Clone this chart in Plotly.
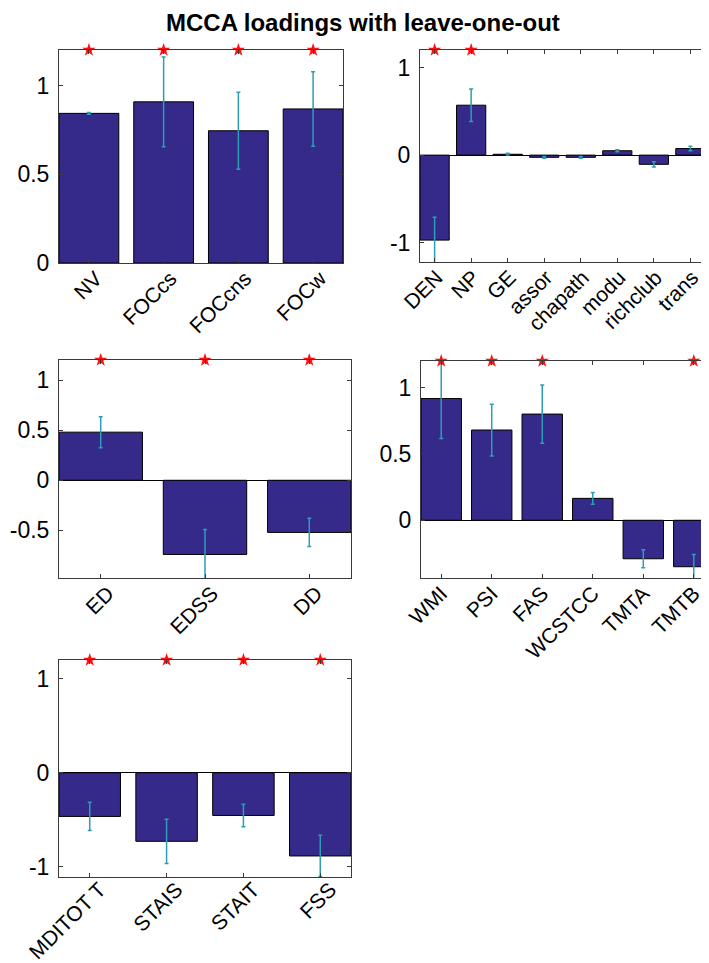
import plotly.graph_objects as go

W, H = 709, 963

# ---- data ----
p1_labels = ["NV", "FOCcs", "FOCcns", "FOCw"]
p1_values = [0.843, 0.908, 0.745, 0.868]
p1_errors = [0.005, 0.253, 0.217, 0.21]
p1_sig = [1, 1, 1, 1]

p2_labels = ["DEN", "NP", "GE", "assor", "chapath", "modu", "richclub", "trans"]
p2_values = [-0.97, 0.57, 0.01, -0.025, -0.025, 0.05, -0.105, 0.075]
p2_errors = [0.26, 0.185, 0.01, 0.01, 0.01, 0.012, 0.03, 0.025]
p2_sig = [1, 1, 0, 0, 0, 0, 0, 0]

p3_labels = ["ED", "EDSS", "DD"]
p3_values = [0.48, -0.74, -0.52]
p3_errors = [0.155, 0.25, 0.14]
p3_sig = [1, 1, 1]

p4_labels = ["WMI", "PSI", "FAS", "WCSTCC", "TMTA", "TMTB"]
p4_values = [0.917, 0.68, 0.80, 0.165, -0.29, -0.35]
p4_errors = [0.30, 0.195, 0.22, 0.045, 0.068, 0.093]
p4_sig = [1, 1, 1, 0, 0, 1]

p5_labels = ["MDITOT T", "STAIS", "STAIT", "FSS"]
p5_values = [-0.465, -0.73, -0.455, -0.886]
p5_errors = [0.15, 0.235, 0.12, 0.22]
p5_sig = [1, 1, 1, 1]

star_level = 1.2

p1_yticks = [0, 0.5, 1]
p1_yticktext = ["0", "0.5", "1"]
p2_yticks = [-1, 0, 1]
p2_yticktext = ["-1", "0", "1"]
p3_yticks = [-0.5, 0, 0.5, 1]
p3_yticktext = ["-0.5", "0", "0.5", "1"]
p4_yticks = [0, 0.5, 1]
p4_yticktext = ["0", "0.5", "1"]
p5_yticks = [-1, 0, 1]
p5_yticktext = ["-1", "0", "1"]

title = "MCCA loadings with leave-one-out"

# ---- layout (pixel boxes: x0, x1, y0(top), y1(bottom)) ----
panels = [
    dict(labels=p1_labels, values=p1_values, errors=p1_errors, sig=p1_sig,
         yr=[0, 1.2], yt=p1_yticks, ytt=p1_yticktext, box=(51, 335, 42, 255),
         shift=7, standoff=-6),
    dict(labels=p2_labels, values=p2_values, errors=p2_errors, sig=p2_sig,
         yr=[-1.22, 1.2], yt=p2_yticks, ytt=p2_yticktext, box=(412, 697, 42, 254),
         shift=2, standoff=-6),
    dict(labels=p3_labels, values=p3_values, errors=p3_errors, sig=p3_sig,
         yr=[-0.975, 1.2], yt=p3_yticks, ytt=p3_yticktext, box=(51, 343, 352, 570),
         shift=7, standoff=-6),
    dict(labels=p4_labels, values=p4_values, errors=p4_errors, sig=p4_sig,
         yr=[-0.435, 1.2], yt=p4_yticks, ytt=p4_yticktext, box=(413, 706, 353, 570),
         shift=0, standoff=-6),
    dict(labels=p5_labels, values=p5_values, errors=p5_errors, sig=p5_sig,
         yr=[-1.11, 1.2], yt=p5_yticks, ytt=p5_yticktext, box=(51, 343, 652, 869),
         shift=10, standoff=-9),
]

BAR = "#35298A"
ERR = "#2E9DB6"
LINE = "#3a3a3a"
FONT = "Liberation Sans, Arial, sans-serif"
YTICKSIZE = 23
XTICKSIZE = 21

fig = go.Figure()
layout = dict(
    width=W, height=H,
    margin=dict(l=0, r=0, t=0, b=0),
    paper_bgcolor="white", plot_bgcolor="white",
    showlegend=False,
    font=dict(family=FONT, color="black", size=YTICKSIZE),
)

for i, p in enumerate(panels, start=1):
    xa = "x" if i == 1 else f"x{i}"
    ya = "y" if i == 1 else f"y{i}"
    fig.add_trace(go.Bar(
        x=p["labels"], y=p["values"], width=0.8,
        marker=dict(color=BAR, line=dict(color="black", width=1)),
        error_y=dict(type="data", array=p["errors"], symmetric=True,
                     color=ERR, thickness=1.5, width=2),
        xaxis=xa, yaxis=ya, hoverinfo="skip",
    ))
    sx = [lab for lab, s in zip(p["labels"], p["sig"]) if s]
    fig.add_trace(go.Scatter(
        x=sx, y=[star_level] * len(sx), mode="markers",
        marker=dict(symbol="star", size=10, color="#FF1010",
                    line=dict(width=0)),
        cliponaxis=False, xaxis=xa, yaxis=ya, hoverinfo="skip",
    ))
    x0, x1, y0, y1 = p["box"]
    n = len(p["labels"])
    axis_common = dict(showline=True, linecolor=LINE, linewidth=1,
                       mirror="ticks", ticks="inside", ticklen=4,
                       tickcolor=LINE, showgrid=False, automargin=False)
    layout["xaxis" if i == 1 else f"xaxis{i}"] = dict(
        domain=[x0 / W, x1 / W], anchor=ya,
        type="category", range=[-0.4, n - 0.6], tickangle=-45,
        ticklabelstandoff=p["standoff"], ticklabelshift=p["shift"],
        tickfont=dict(family=FONT, size=XTICKSIZE, color="black"),
        zeroline=False, **axis_common)
    layout["yaxis" if i == 1 else f"yaxis{i}"] = dict(
        domain=[1 - y1 / H, 1 - y0 / H], anchor=xa,
        range=p["yr"], tickvals=p["yt"], ticktext=p["ytt"],
        ticklabelstandoff=4,
        tickfont=dict(family=FONT, size=YTICKSIZE, color="black"),
        zeroline=True, zerolinecolor="black", zerolinewidth=1,
        **axis_common)

layout["annotations"] = [dict(
    text="<b>" + title + "</b>", x=0.5, y=1 - 14 / H, xref="paper", yref="paper",
    xanchor="center", yanchor="middle", showarrow=False,
    font=dict(family=FONT, size=24, color="black"))]

fig.update_layout(**layout)
fig.write_html("out.html")
